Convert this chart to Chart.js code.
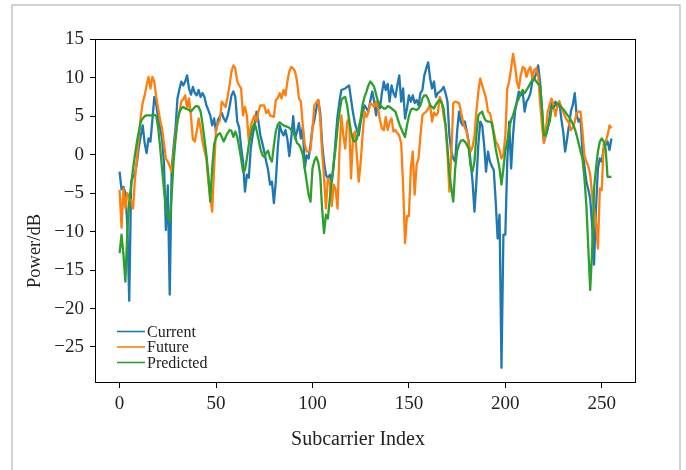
<!DOCTYPE html>
<html>
<head>
<meta charset="utf-8">
<script src="https://cdn.jsdelivr.net/npm/chart.js@4.4.0/dist/chart.umd.min.js"></script>
<style>
  html, body { margin: 0; padding: 0; background: #fff; }
  #wrap { width: 686px; height: 470px; position: relative; }
</style>
</head>
<body>
<div id="wrap"><canvas id="myChart" width="686" height="470"></canvas></div>
<script>
// values, one per subcarrier (0..255)
const current = [
  -2.2, -4.5, -4.2, -5, -9, -19, -3.5, -2.8, -2.5, -1,
  1, 2.5, 3.8, 1.5, 0.2, 2.1, 1.7, 4.5, 7.5, 6.5,
  4.7, 3.5, 2.1, -1, -9.8, -4, -18.2, -1.8, 1, 3.4,
  7.3, 8.5, 9.5, 9, 9.5, 10.3, 8.6, 7.8, 8.8, 8,
  7.7, 8.4, 7.5, 8, 7.5, 6.4, 5.8, 5.1, 3.8, 4.7,
  3, 4.5, 5, 5.4, 4.7, 4.3, 5, 6.2, 7.7, 8.2,
  7.5, 4.3, 3.5, 1, -0.9, -4.8, -2.6, -3, 0.8, 2.5,
  3.8, 5.6, 4.3, 2.5, 1.5, 0.4, -0.9, -2, -3.9, -3.5,
  -6.3, -3.5, 0.8, 3.8, 3, 2.5, 3.2, 2, -0.2, 2.1,
  5, 2.1, 3, 4.1, 2.1, 3.6, -1.8, -0.1, -0.5, 1.3,
  3.5, 4.5, 6, 7.1, 5.5, 1.5, -1, -2.6, -3.1, -2.6,
  -3.5, -1.5, 2, 5, 6.9, 8.4, 8.5, 8.6, 8.8, 9,
  7.2, 5.5, 4.1, 3.2, 2.5, 4.3, 5.5, 6.4, 6, 5.6,
  7, 8.2, 6.9, 5.1, 6.9, 6, 8, 9.5, 8.4, 9.2,
  6.9, 9, 8, 7.5, 9, 10.3, 6.9, 8.6, 4.7, 6,
  7.7, 6.9, 7.7, 6.7, 7.1, 6.4, 8, 8.4, 10.3, 11.2,
  12, 9.9, 8.6, 9.5, 7.5, 8, 8.2, 8.4, 8.8, 8,
  6.9, 2.5, 0.4, -0.5, -0.9, 3, 5.6, 4.2, 3.8, 4.3,
  3, 1.7, -1, -3.5, -7.4, -3.5, 1.3, 4.3, 3.8, 1.3,
  -2.2, 0.4, -0.9, -1.5, -2, -6, -10.9, -7.8, -27.7, -10.4,
  -10.4, -0.9, 4.3, -1.8, 2.5, 5.6, 6.9, 8.2, 7.7, 8.2,
  5.6, 6.9, 7.3, 8, 9.5, 9.9, 10.5, 11.6, 9.5, 6,
  1.7, 2.5, 3.4, 5, 6.9, 6, 6.9, 6.2, 6.9, 4.7,
  3, 0.4, 2, 3.8, 5.6, 6.5, 8, 5.1, 4.3, 4.7,
  0.4, -1.5, -3.5, -4.5, -5.7, -9.1, -14.3, -7, -1.8, -0.5,
  -0.9, 0.8, 1.3, 1.7, 0.6, 2.1
];
const future = [
  -4.6, -9.5, -4.4, -7, -5, -5.5, -6, -7, -3, -0.5,
  2.5, 5, 6.8, 7.7, 9, 10.1, 8.6, 10.1, 9.5, 7.5,
  6, 4.5, 3.4, 1.5, -0.5, -0.9, -1.5, -2.2, 0, 2.5,
  4.5, 5.5, 6.9, 7.2, 7.7, 6, 7.3, 5, 2, 1.7,
  3, 4.7, 3.4, 1.7, 0.5, -0.5, -3.5, -5.5, -7.4, -1.8,
  3.4, 4, 4.5, 6.9, 6.5, 6.2, 7.5, 9, 10.8, 11.6,
  11.2, 9.5, 9, 8.6, 5.1, 6.2, 5.1, 1.7, 3.8, 4.5,
  5.1, 4.3, 5.6, 6.4, 6.4, 6.4, 5.4, 5.8, 5.1, 5,
  4.9, 7.1, 7.3, 8, 7.3, 8.4, 7.7, 9.5, 10.8, 11.4,
  11.2, 10.8, 9.5, 7.3, 6.9, 3.8, 1.3, 0.4, 0.4, 0.6,
  3.4, 6.4, 6.8, 7.1, 4.7, 0.4, -3, -7, -3.1, -3.5,
  -6.7, -3.9, -4.5, -7, 0.4, 5.1, 2.5, 0.8, 4.3, 4.7,
  -3.1, 2.1, 3, 0, -3.5, -1, 2.5, 5.6, 4.9, 5.5,
  6.7, 6.5, 6.2, 6.9, 6, 4.5, 3.4, 3.2, 4.9, 3.2,
  4.2, 4.7, 3, 3.2, 2.8, 2.5, 1.5, -4, -11.5, -8,
  -8, -1.8, 0.4, -5.2, -1.3, -0.5, 2.5, 5.1, 5.4, 5.6,
  6, 6.5, 4.3, 5.5, 5.1, 5.4, 7.5, 6.9, 5, 3.8,
  0, -4.8, 0, 6.7, 6.9, 6.8, 6.7, 5.6, 4.3, 3.5,
  3, 1.3, 0.4, 1, 2.5, 5.6, 8.2, 9.9, 9, 8.2,
  7.3, 5.6, 5.4, 4.3, 3, 1.7, 1.3, 0.6, -0.5, 0,
  2.5, 8.6, 9.5, 11.2, 13.1, 11.6, 9.5, 8.6, 10.3, 11.4,
  11.2, 10.1, 11, 11.4, 9.9, 11, 11.2, 10.3, 6.9, 3.8,
  1.5, 3.2, 5.6, 6.5, 7.3, 6.4, 5, 6.4, 6.9, 6.2,
  5.6, 4.9, 4.5, 4.1, 3.2, 3.5, 4.3, 5.4, 5.6, 5.6,
  3, -0.1, -0.9, -1.5, -2.6, -5.2, -7, -8.7, -12.2, -4.4,
  -4.6, 1.3, 1.7, 2.5, 3.8, 3.4
];
const predicted = [
  -12.8, -10.4, -13, -16.5, -10, -6.1, -4, -1.8, 0, 1.7,
  3, 4.3, 4.7, 5, 5.1, 5.1, 5.1, 5.1, 5.2, 5,
  3.5, 1, -1.8, -4.5, -7, -7.8, -8.7, -5.2, -0.9, 2,
  4.3, 5.5, 6, 6.2, 6, 5.9, 5.8, 5.6, 5.9, 6.2,
  6.3, 6.2, 5.6, 4, 2, 0, -2.6, -6.1, -1.8, 1.3,
  2.2, 2.6, 2.8, 2.3, 1.7, 2.3, 2.8, 3.2, 3.1, 2.3,
  3, 2.3, 1, -0.5, -2.2, -2, -0.5, 1.3, 2.5, 3.6,
  4.1, 3.2, 2, 0.8, 0, -0.3, 0.2, 0.5, -0.5, -0.9,
  1.2, 3, 3.9, 4.2, 4, 3.8, 3.7, 3.6, 3.5, 3.2,
  3, 2.3, 1.5, 1.3, 0.8, 0, -1.8, -3.5, -5.2, -6.1,
  -1.8, -0.8, -0.3, -1, -2.6, -7, -10.2, -7.8, -8.3, -5.7,
  -3.5, -1, 0.8, 3.5, 5.5, 7.1, 7.4, 7.5, 6.4, 4.5,
  3, 1.9, 1.7, 2, 3.5, 4.7, 6.5, 7.5, 8.2, 9,
  9.5, 9.2, 8.8, 7.8, 6.9, 6.5, 6.2, 6, 6, 6.3,
  6.2, 6, 5.8, 5.6, 4.8, 4, 3.4, 2.8, 2.3, 3.8,
  5, 5.8, 6, 5.9, 5.8, 6, 6.4, 7.3, 7.7, 7.7,
  7.2, 6.4, 6.2, 6, 6.5, 6.9, 7.1, 6.7, 6, 3.8,
  1, -2.5, -4.4, -6.1, -1.8, 0.5, 1.3, 1.8, 1.9, 1.7,
  1.3, 0.8, -1.5, -2.2, -0.9, 2.5, 5.1, 5.4, 5.6, 4.8,
  4.4, 4.3, 4.3, 4.1, 2.5, 0.8, -0.5, -1.8, -3.9, -1.8,
  0.5, 1.7, 3.4, 4.5, 5.1, 6, 6.8, 7.3, 8, 8.4,
  8, 8.4, 8.8, 9.3, 9.7, 9.9, 9.5, 9.2, 9, 6,
  2.5, 2.5, 3.5, 4.3, 6, 6.2, 6.4, 6.7, 6.5, 6.2,
  5.9, 5.6, 5.2, 4.9, 4.5, 4, 3.4, 2.5, 1.5, 0.4,
  -0.5, -3, -6.5, -12, -17.6, -12.6, -4.4, -1.8, 0.4, 1.7,
  2.1, 1.7, 0.8, -2.9, -2.9, -2.9
];
const seriesNames = ["Current", "Future", "Predicted"];
const seriesColors = ["#1f77b4", "#ff7f0e", "#2ca02c"];
const xTicks = [0, 50, 100, 150, 200, 250];
const yTicks = [-25, -20, -15, -10, -5, 0, 5, 10, 15];

const FONT = "'Liberation Serif', 'Times New Roman', serif";
const toPoints = arr => arr.map((v, i) => ({ x: i, y: v }));

// frame, outer border, axis titles and the legend box inside the plot
const decorations = {
    id: 'decorations',
    beforeDraw(chart) {
        const ctx = chart.ctx;
        ctx.save();
        ctx.fillStyle = '#fff';
        ctx.fillRect(0, 0, chart.width, chart.height);
        ctx.strokeStyle = '#b4b4b4';
        ctx.lineWidth = 1.2;
        ctx.strokeRect(12, 5, 668, 480);
        ctx.restore();
    },
    afterDraw(chart) {
        const ctx = chart.ctx;
        const a = chart.chartArea;
        ctx.save();
        ctx.strokeStyle = '#000';
        ctx.lineWidth = 1;
        ctx.strokeRect(Math.round(a.left) + 0.5, Math.round(a.top) + 0.5,
            Math.round(a.right - a.left) - 1, Math.round(a.bottom - a.top) - 1);

        ctx.fillStyle = '#222';
        ctx.textAlign = 'center';
        ctx.textBaseline = 'middle';
        ctx.font = "20px " + FONT;
        ctx.fillText("Subcarrier Index", 358, 440);
        ctx.font = "18.5px " + FONT;
        ctx.translate(35, 251);
        ctx.rotate(-Math.PI / 2);
        ctx.fillText("Power/dB", 0, 0);
        ctx.restore();

        // legend
        ctx.save();
        ctx.font = "16px " + FONT;
        ctx.textAlign = 'left';
        ctx.textBaseline = 'middle';
        chart.data.datasets.forEach((ds, k) => {
            const y = 331.5 + k * 15.5;
            ctx.strokeStyle = ds.borderColor;
            ctx.lineWidth = 1.6;
            ctx.beginPath();
            ctx.moveTo(117, y);
            ctx.lineTo(145, y);
            ctx.stroke();
            ctx.fillStyle = '#222';
            ctx.fillText(ds.label, 147, y + 1);
        });
        ctx.restore();
    }
};

new Chart(document.getElementById('myChart'), {
    type: 'line',
    data: {
        datasets: [current, future, predicted].map((arr, k) => ({
            label: seriesNames[k],
            data: toPoints(arr),
            borderColor: seriesColors[k],
            backgroundColor: seriesColors[k],
            borderWidth: 2.3,
            borderJoinStyle: 'round',
            pointRadius: 0,
            tension: 0,
            order: 2 - k
        }))
    },
    options: {
        responsive: false,
        animation: false,
        devicePixelRatio: 1,
        layout: { padding: { top: 39, right: 50, left: 0, bottom: 0 } },
        plugins: { legend: { display: false }, tooltip: { enabled: false } },
        scales: {
            x: {
                type: 'linear',
                min: -12.75,
                max: 267.75,
                afterBuildTicks: s => { s.ticks = xTicks.map(v => ({ value: v })); },
                afterFit: s => { s.height = 87; },
                grid: { drawOnChartArea: false, tickLength: 5, color: '#000' },
                border: { display: false },
                ticks: { color: '#222', padding: 5, maxRotation: 0, font: { family: FONT, size: 19 } }
            },
            y: {
                min: -29.68,
                max: 15.03,
                afterBuildTicks: s => { s.ticks = yTicks.map(v => ({ value: v })); },
                afterFit: s => { s.width = 95; },
                grid: { drawOnChartArea: false, tickLength: 5, color: '#000' },
                border: { display: false },
                ticks: {
                    color: '#222', padding: 6,
                    font: { family: FONT, size: 19 },
                    callback: v => String(v).replace('-', '\u2212')
                }
            }
        }
    },
    plugins: [decorations]
});
</script>
</body>
</html>
